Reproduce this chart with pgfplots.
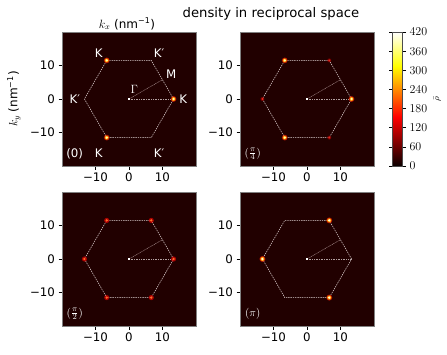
\documentclass[border=0pt]{standalone}
\usepackage{fontspec}
\setmainfont{DejaVu Sans}
\usepackage{pgfplots}
\pgfplotsset{compat=1.18}
\definecolor{bgmap}{RGB}{33,0,0}
\definecolor{hexc}{RGB}{225,212,212}
\definecolor{gmc}{RGB}{175,150,150}
% spot colours taken from the hot colormap
\definecolor{hotA}{RGB}{255,255,170}
\definecolor{hotAmid}{RGB}{255,150,0}
\definecolor{hotArim}{RGB}{230,20,0}
\definecolor{hotB}{RGB}{255,255,215}
\definecolor{hotC}{RGB}{255,110,40}
\definecolor{hotCrim}{RGB}{215,0,0}
\definecolor{hotD}{RGB}{230,40,30}
\definecolor{hotDrim}{RGB}{140,0,0}
\pgfplotsset{
 colormap={mplhot}{rgb(0cm)=(0.0416,0,0) rgb(3.65cm)=(1,0,0) rgb(7.46cm)=(1,1,0) rgb(10cm)=(1,1,1)},
 panel/.style={scale only axis, width=134pt, height=134pt,
   xmin=-20,xmax=20,ymin=-20,ymax=20,
   axis background/.style={fill=bgmap},
   xtick={-10,0,10}, xticklabels={−10,0,10},
   ytick={-10,0,10}, yticklabels={−10,0,10},
   tick align=outside, tick pos=left, major tick length=3.5pt,
   axis line style={black!50}, tick style={black, line width=0.6pt},
   ticklabel style={font=\fontsize{11.8}{13}\selectfont},
   point meta min=0, point meta max=420, colormap name=mplhot,
   anchor=south west},
 hex/.style={hexc, line width=0.5pt, dash pattern=on 1.4pt off 0.9pt},
 spot/.style={only marks, mark=*, mark size=#1, mark options={draw opacity=0}},
}
\newcommand{\hexagon}{%
 \addplot[hex] coordinates {(13.3,0) (6.65,11.52) (-6.65,11.52) (-13.3,0) (-6.65,-11.52) (6.65,-11.52) (13.3,0)};
 \addplot[gmc, line width=0.4pt, dash pattern=on 1pt off 0.6pt] coordinates {(0,0) (9.98,5.76)};
 \addplot[hexc!75!bgmap, line width=0.3pt, dash pattern=on 0.7pt off 1pt] coordinates {(0,0) (13.3,0)};
 \addplot[white, only marks, mark=square*, mark size=0.5pt] coordinates {(0,0)};
}
\begin{document}
\begin{tikzpicture}
\path[use as bounding box] (0,0) rectangle (447pt,354pt);
% ---- panel (0)
\begin{axis}[panel, at={(62pt,188pt)}]
\hexagon
\addplot[spot=2.9pt, hotArim, opacity=0.7] coordinates {(13.3,0) (-6.65,11.52) (-6.65,-11.52)};
\addplot[spot=2.0pt, hotAmid] coordinates {(13.3,0) (-6.65,11.52) (-6.65,-11.52)};
\addplot[spot=1.2pt, hotA] coordinates {(13.3,0) (-6.65,11.52) (-6.65,-11.52)};
\begin{scope}[every node/.style={white, font=\fontsize{11.8}{13}\selectfont}]
\node at (axis cs:-9,13.6) {K};
\node at (axis cs:9,13.6) {K′};
\node at (axis cs:12.6,7.4) {M};
\node at (axis cs:1.6,2.9) {$\Gamma$};
\node at (axis cs:-16.2,0) {K′};
\node at (axis cs:16.2,0) {K};
\node at (axis cs:-9,-16.2) {K};
\node at (axis cs:9,-16.2) {K′};
\node at (axis cs:-16.2,-16.4) {(0)};
\end{scope}
\end{axis}
% ---- panel (pi/4)
\begin{axis}[panel, at={(240pt,188pt)},
  colorbar,
  colorbar style={at={(parent axis.north east)}, anchor=north west, xshift=10pt,
    width=10pt, ytick={0,60,...,420}, yticklabel pos=right,
    tick align=outside, major tick length=3.5pt,
    axis line style={black!70}, tick style={black, line width=0.6pt},
    ticklabel style={font=\fontsize{11.8}{13}\selectfont},
    ylabel={$\bar\rho$}, ylabel style={font=\fontsize{9}{11}\selectfont}}]
\hexagon
\addplot[spot=2.9pt, hotArim, opacity=0.7] coordinates {(13.3,0) (-6.65,11.52) (-6.65,-11.52)};
\addplot[spot=2.0pt, hotAmid] coordinates {(13.3,0) (-6.65,11.52) (-6.65,-11.52)};
\addplot[spot=1.2pt, hotA] coordinates {(13.3,0) (-6.65,11.52) (-6.65,-11.52)};
\addplot[spot=2.0pt, hotDrim, opacity=0.8] coordinates {(6.65,11.52) (-13.3,0) (6.65,-11.52)};
\addplot[spot=1.1pt, hotD] coordinates {(6.65,11.52) (-13.3,0) (6.65,-11.52)};
\node[white, font=\fontsize{11}{12}\selectfont] at (axis cs:-16.2,-16.4) {$(\frac{\pi}{4})$};
\end{axis}
% ---- panel (pi/2)
\begin{axis}[panel, at={(62pt,28pt)}]
\hexagon
\addplot[spot=2.6pt, hotCrim, opacity=0.75] coordinates {(13.3,0) (6.65,11.52) (-6.65,11.52) (-13.3,0) (-6.65,-11.52) (6.65,-11.52)};
\addplot[spot=1.3pt, hotC] coordinates {(13.3,0) (6.65,11.52) (-6.65,11.52) (-13.3,0) (-6.65,-11.52) (6.65,-11.52)};
\node[white, font=\fontsize{11}{12}\selectfont] at (axis cs:-16.2,-16.4) {$(\frac{\pi}{2})$};
\end{axis}
% ---- panel (pi)
\begin{axis}[panel, at={(240pt,28pt)}]
\hexagon
\addplot[spot=3.0pt, hotArim, opacity=0.7] coordinates {(6.65,11.52) (-13.3,0) (6.65,-11.52)};
\addplot[spot=2.1pt, hotAmid] coordinates {(6.65,11.52) (-13.3,0) (6.65,-11.52)};
\addplot[spot=1.3pt, hotB] coordinates {(6.65,11.52) (-13.3,0) (6.65,-11.52)};
\node[white, font=\fontsize{11}{12}\selectfont] at (axis cs:-16.2,-16.4) {$(\pi)$};
\end{axis}
% ---- titles
\node[font=\fontsize{13.2}{15}\selectfont] at (271pt,340pt) {density in reciprocal space};
\node[font=\fontsize{12}{14}\selectfont] at (127pt,330pt) {$k_x$ (nm\textsuperscript{−1})};
\node[font=\fontsize{12}{14}\selectfont, rotate=90] at (14pt,255pt) {$k_y$ (nm\textsuperscript{−1})};
\end{tikzpicture}
\end{document}
